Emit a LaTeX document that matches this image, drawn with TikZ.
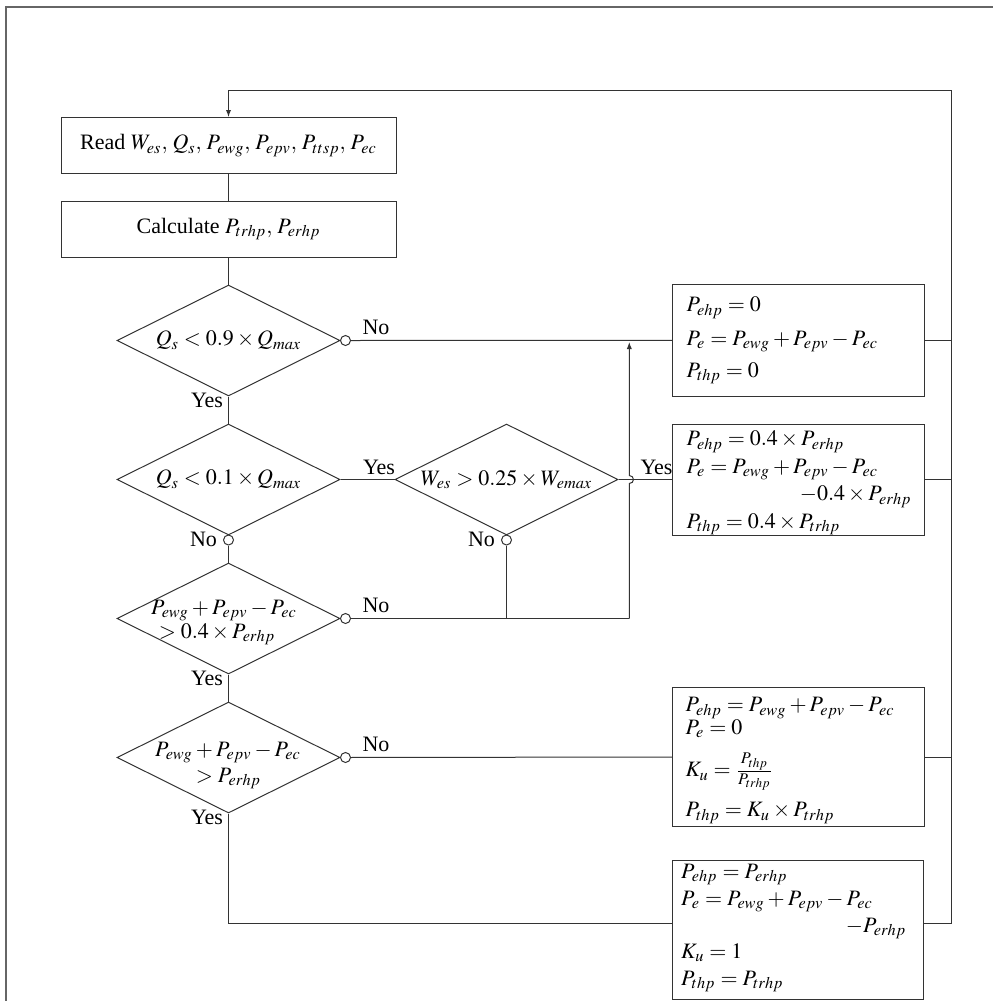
\documentclass[tikz,border=0pt]{standalone}
\usepackage{mathptmx}
\usepackage{fontspec}
\setmainfont{Liberation Serif}
\usetikzlibrary{shapes.geometric,arrows.meta}
\begin{document}
\begin{tikzpicture}[x=0.5pt,y=-0.5pt,line width=0.5pt,
  every node/.style={font=\fontsize{11}{13}\selectfont},
  fc/.style={draw=black!80},
  rbox/.style={fc,inner sep=0,minimum width=167.5pt,minimum height=28pt},
  obox/.style={fc,inner sep=0,minimum width=126pt},
  dia/.style={fc,diamond,inner sep=0,minimum width=111.5pt,minimum height=55.5pt},
  circ/.style={fc,circle,fill=white,minimum size=5pt,inner sep=0},
  lab/.style={inner sep=0,anchor=base west},
  labe/.style={inner sep=0,anchor=base east},
  labc/.style={inner sep=0,anchor=base},
  arr/.style={-{Latex[length=3.5pt,width=2.6pt]}},
  ln/.style={draw=black!80}]
\useasboundingbox (0,0) rectangle (995,1001);
% frame
\draw[black!60,line width=0.7pt] (6,1001) -- (6,7) -- (993,7);

% left column
\node[rbox] (read) at (228.5,145.5) {Read $W_{es},\, Q_s,\, P_{ewg},\, P_{epv},\, P_{ttsp},\, P_{ec}$};
\node[rbox] (calc) at (228.5,229) {Calculate $P_{trhp},\, P_{erhp}$};

\node[dia] (d1) at (228.5,340.5) {};
\node[dia] (d2) at (228.5,479.5) {};
\node[dia] (d3) at (506.5,479.5) {};
\node[dia] (d4) at (228.5,618.5) {};
\node[dia] (d5) at (228.5,757.5) {};

\node[inner sep=0] (t1) at (228.5,340.5) {$Q_s < 0.9\times Q_{max}$};
\node[inner sep=0] (t2) at (228.5,479.5) {$Q_s < 0.1\times Q_{max}$};
\node[inner sep=0] (t3) at (506.5,479.5) {$W_{es} > 0.25\times W_{emax}$};
\node[labc] (t4a) at (224,614) {$P_{ewg}+P_{epv}-P_{ec}$};
\node[labc] (t4b) at (217,638) {$>0.4\times P_{erhp}$};
\node[labc] (t5a) at (228,756.5) {$P_{ewg}+P_{epv}-P_{ec}$};
\node[labc] (t5b) at (228.5,782) {$>P_{erhp}$};

% right boxes
\node[obox,minimum height=55.7pt] (b1) at (798.5,340.4) {};
\node[obox,minimum height=55.5pt] (b2) at (798.5,479.5) {};
\node[obox,minimum height=69.7pt] (b3) at (798.5,757) {};
\node[fc,inner sep=0,minimum width=125.3pt,minimum height=69.5pt] (b4) at (798,929.5) {};

% box texts
\node[lab] (e11) at (686,311.5) {$P_{ehp} = 0$};
\node[lab] (e12) at (686,345) {$P_e = P_{ewg} + P_{epv} - P_{ec}$};
\node[lab] (e13) at (686,377) {$P_{thp} = 0$};

\node[lab] (e21) at (686,445.5) {$P_{ehp} = 0.4\times P_{erhp}$};
\node[lab] (e22) at (686,473) {$P_e = P_{ewg} + P_{epv} - P_{ec}$};
\node[labe] (e23) at (912,500.5) {$-0.4\times P_{erhp}$};
\node[lab] (e24) at (686,528) {$P_{thp} = 0.4\times P_{trhp}$};

\node[lab] (e31) at (685,711.7) {$P_{ehp} = P_{ewg} + P_{epv} - P_{ec}$};
\node[lab] (e32) at (685,734) {$P_e = 0$};
\node[lab] (e33) at (685,776.7) {$K_u = \frac{P_{thp}}{P_{trhp}}$};
\node[lab] (e34) at (685,816.7) {$P_{thp} = K_u\times P_{trhp}$};

\node[lab] (e41) at (680.7,878) {$P_{ehp} = P_{erhp}$};
\node[lab] (e42) at (680.7,905) {$P_e = P_{ewg} + P_{epv} - P_{ec}$};
\node[labe] (e43) at (906.7,932) {$-P_{erhp}$};
\node[lab] (e44) at (680.7,958) {$K_u = 1$};
\node[lab] (e45) at (680.7,985) {$P_{thp} = P_{trhp}$};

% coordinates
\coordinate (bus) at (951.5,90.5);
\coordinate (j) at (629.3,618.5);
\coordinate (hb) at (629.3,483.5);
\coordinate (ht) at (629.3,475.5);
\coordinate (tip) at (629.3,342);
\coordinate (w4) at (672.7,923.5);
\coordinate (w4e) at (923.3,923.5);

% connectors
\draw[ln] (read.south) -- (calc.north);
\draw[ln] (calc.south) -- (d1.north);
\draw[ln] (d1.south) -- (d2.north);
\draw[ln] (d2.east) -- (d3.west);
\draw[ln] (d3.east) -- (b2.west);
\draw[ln] (d4.south) -- (d5.north);
\draw[ln] (d5.south) |- (w4);

\node[circ] (c1) at (345.5,340.5) {};
\node[circ] (c2) at (228.5,540) {};
\node[circ] (c3) at (506.5,540) {};
\node[circ] (c4) at (345.5,618.5) {};
\node[circ] (c5) at (345.5,757.5) {};

\draw[ln] (c1) -- (b1.west);
\draw[ln] (c2) -- (d4.north);
\draw[ln] (c3) -- (c3 |- j);
\draw[ln] (c4) -- (j);
\draw[ln] (c5) -- (b3.west);
\draw[ln,arr] (j) -- (hb) .. controls (634.8,483.5) and (634.8,475.5) .. (ht) -- (tip);

\draw[ln] (b1.east) -- (b1.east -| bus);
\draw[ln] (b2.east) -- (b2.east -| bus);
\draw[ln] (b3.east) -- (b3.east -| bus);
\draw[ln,arr] (w4e) -| (bus) -| (read.north);

% yes / no labels
\node[lab] (n1) at (362,334.5) {No};
\node[lab] (y1) at (190.5,407.5) {Yes};
\node[lab] (y2) at (362.5,474.5) {Yes};
\node[lab] (n2) at (189.5,546.5) {No};
\node[lab] (n3) at (467.5,546.5) {No};
\node[lab] (y3) at (640,474.5) {Yes};
\node[lab] (n4) at (362,612.5) {No};
\node[lab] (y4) at (190.5,685) {Yes};
\node[lab] (n5) at (362,751.5) {No};
\node[lab] (y5) at (190.5,824) {Yes};
\end{tikzpicture}
\end{document}
